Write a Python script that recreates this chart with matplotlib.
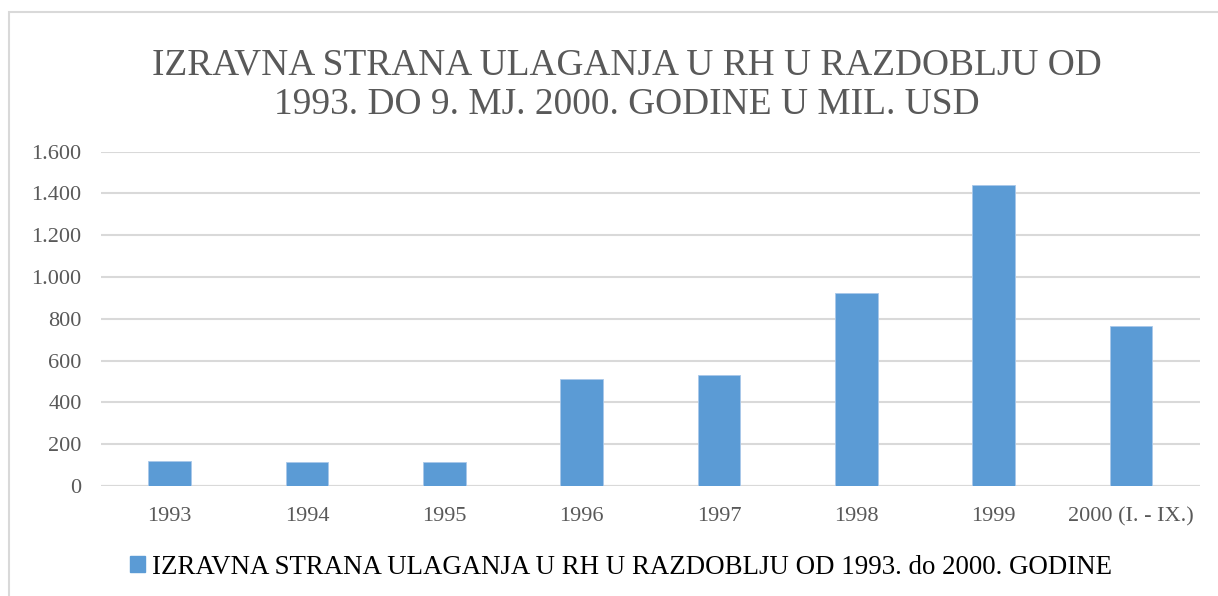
import matplotlib
matplotlib.use('Agg')
import matplotlib.pyplot as plt
from matplotlib.patches import Rectangle
from matplotlib.ticker import FuncFormatter

# podaci (mil. USD)
godine = ['1993', '1994', '1995', '1996', '1997', '1998', '1999', '2000 (I. - IX.)']
ulaganja = [120, 117, 114, 511, 533, 925, 1442, 765]
y_ticks = [0, 200, 400, 600, 800, 1000, 1200, 1400, 1600]

naslov = 'IZRAVNA STRANA ULAGANJA U RH U RAZDOBLJU OD\n1993. DO 9. MJ. 2000. GODINE U MIL. USD'
legenda = 'IZRAVNA STRANA ULAGANJA U RH U RAZDOBLJU OD 1993. do 2000. GODINE'

serif = ['Liberation Serif', 'DejaVu Serif']
plt.rcParams['font.family'] = serif

bar_color = '#5B9BD5'
grid_color = '#D9D9D9'
text_gray = '#595959'

fig = plt.figure(figsize=(12.18, 5.96), dpi=100)
ax = fig.add_axes([0.083, 0.1846, 0.902, 0.5612])

x = range(len(godine))
bars = ax.bar(x, ulaganja, width=0.31, color=bar_color, edgecolor='#A9C8EA',
              linewidth=0.6, zorder=3, label=legenda)

ax.set_xlim(-0.5, len(godine) - 0.5)
ax.set_ylim(0, 1600)
ax.set_yticks(y_ticks)
ax.yaxis.set_major_formatter(FuncFormatter(lambda v, p: f'{int(v):,}'.replace(',', '.')))
ax.set_xticks(list(x))
ax.set_xticklabels(godine, family=serif)
for lbl in ax.get_yticklabels():
    lbl.set_family(serif)

ax.grid(axis='y', color=grid_color, linewidth=1.5, zorder=0)
ax.axhline(0, color=grid_color, linewidth=1.5, zorder=2)
for s in ax.spines.values():
    s.set_visible(False)
ax.tick_params(axis='both', length=0, labelsize=16, colors=text_gray)
ax.tick_params(axis='y', pad=14)
ax.tick_params(axis='x', pad=15)

fig.text(0.515, 0.858, naslov, ha='center', va='center', fontsize=26.9,
         color=text_gray, linespacing=1.18, family=serif)

# legenda
fig.legend(handles=[Rectangle((0, 0), 1, 1, color=bar_color)], labels=[legenda],
           loc='center', bbox_to_anchor=(0.51, 0.048), frameon=False,
           prop={'family': serif, 'size': 19.4}, handlelength=0.55,
           handleheight=0.55, handletextpad=0.25, labelcolor='black')

# okvir grafikona
fig.patches.append(Rectangle((9 / 1218, -0.01), 1.02, 1 - 12 / 596 + 0.01,
                             transform=fig.transFigure, fill=False,
                             edgecolor=grid_color, linewidth=1.5))

fig.savefig('out.png', dpi=100)
